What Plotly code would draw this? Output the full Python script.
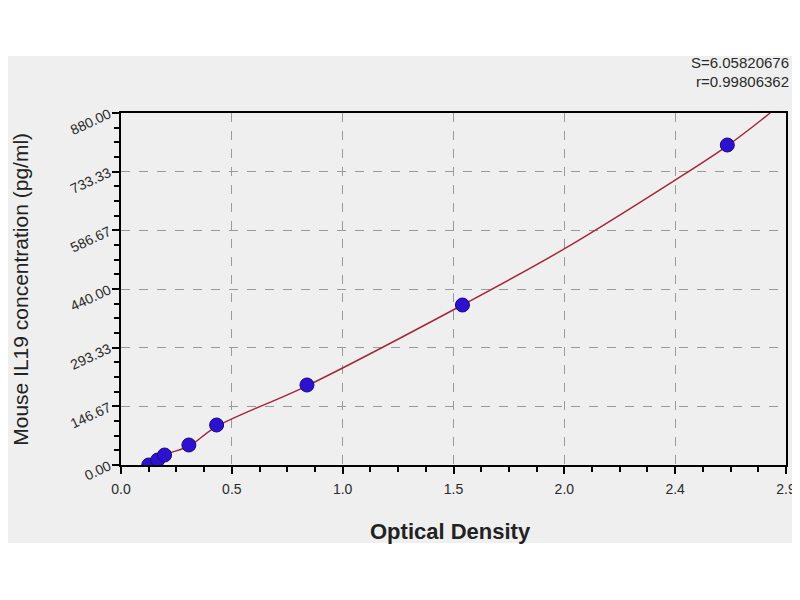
import plotly.graph_objects as go

# Standard points (OD vs concentration)
od_values = [0.121, 0.160, 0.190, 0.296, 0.417, 0.811, 1.489, 2.644]
conc_values = [0.0, 12.5, 25.0, 50.0, 100.0, 200.0, 400.0, 800.0]

# Fitted curve
curve_od = [0.121, 0.190, 0.296, 0.416, 0.811, 1.489, 1.929, 2.413, 2.644, 2.831]
curve_conc = [0.0, 25.0, 47.0, 96.0, 198.0, 400.0, 539.0, 711.0, 798.0, 880.0]

x_ticktext = ["0.0", "0.5", "1.0", "1.5", "2.0", "2.4", "2.9"]
y_ticktext = ["0.00", "146.67", "293.33", "440.00", "586.67", "733.33", "880.00"]
x_max = 2.9
y_max = 880.0

stat_lines = ["S=6.05820676", "r=0.99806362"]

x_tickvals = [i * x_max / 6 for i in range(7)]
y_tickvals = [i * y_max / 6 for i in range(7)]
x_minor = [i * x_max / 24 for i in range(25) if i % 4]
y_minor = [i * y_max / 24 for i in range(25) if i % 4]

OFF = 8  # page body offset of the plot div
fig = go.Figure()
fig.add_trace(go.Scatter(
    x=curve_od, y=curve_conc, mode="lines", line_shape="spline",
    line=dict(color="#a3283f", width=1.5, smoothing=1.0), hoverinfo="skip", showlegend=False,
))
fig.add_trace(go.Scatter(
    x=od_values, y=conc_values, mode="markers",
    marker=dict(size=14, color="#2c12d0", line=dict(color="#1a0680", width=1)),
    showlegend=False,
))

# plot area in screen px: x 121..791, y 113..465
L, T = 121 - OFF, 113 - OFF
R, B = 800 - (791 - OFF), 600 - (465 - OFF)
W, H = 800 - L - R, 600 - T - B


def px(sx):
    return (sx - OFF - L) / W


def py(sy):
    return ((600 - B) - (sy - OFF)) / H


fig.add_shape(type="rect", xref="paper", yref="paper",
              x0=px(-10), x1=px(820), y0=py(543), y1=py(56),
              fillcolor="#efefef", line=dict(width=0), layer="below")

axis_common = dict(
    showline=True, linecolor="black", linewidth=2, mirror=True,
    ticks="outside", ticklen=7, tickwidth=2, tickcolor="black",
    showgrid=True, gridcolor="#9a9a9a", griddash="dash", gridwidth=1,
    zeroline=False,
    tickfont=dict(family="Liberation Sans, Arial", size=14, color="#2a2a2a"),
)

fig.update_xaxes(
    range=[0, x_max], tickmode="array", tickvals=x_tickvals, ticktext=x_ticktext,
    ticklabelstandoff=3,
    minor=dict(tickmode="array", tickvals=x_minor, ticks="outside", ticklen=5,
               tickwidth=2, tickcolor="black", showgrid=False),
    **axis_common,
)
fig.update_yaxes(
    range=[0, y_max], tickmode="array", tickvals=y_tickvals, ticktext=y_ticktext,
    tickangle=-25,
    minor=dict(tickmode="array", tickvals=y_minor, ticks="outside", ticklen=5,
               tickwidth=2, tickcolor="black", showgrid=False),
    **axis_common,
)

fig.add_annotation(
    text="<b>Optical Density</b>", xref="paper", yref="paper",
    x=px(453), y=py(531), xanchor="center", yanchor="middle", showarrow=False,
    font=dict(family="Liberation Sans, Arial", size=22, color="#222222"),
)
fig.add_annotation(
    text="Mouse IL19 concentration (pg/ml)", xref="paper", yref="paper",
    x=px(19), y=py(289), xanchor="center", yanchor="middle", showarrow=False,
    textangle=-90,
    font=dict(family="Liberation Sans, Arial", size=21, color="#222222"),
)

for i, txt in enumerate(stat_lines):
    fig.add_annotation(
        text=txt, xref="paper", yref="paper",
        x=px(796), y=py(63 + 18 * i),
        xanchor="right", yanchor="middle", showarrow=False,
        font=dict(family="Liberation Sans, Arial", size=15, color="#2a2a2a"),
    )

fig.update_layout(
    width=800, height=600,
    margin=dict(l=L, r=R, t=T, b=B),
    paper_bgcolor="white", plot_bgcolor="white",
)

fig.write_html("out.html")
